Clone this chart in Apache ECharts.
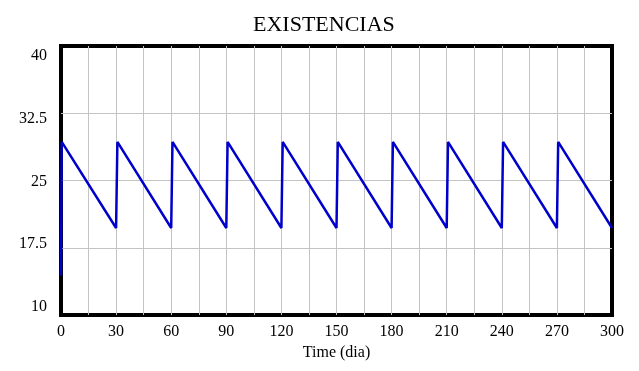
<!DOCTYPE html>
<html><head><meta charset="utf-8">
<script src="https://cdn.jsdelivr.net/npm/echarts@6/dist/echarts.min.js"></script>
<style>html,body{margin:0;padding:0;background:#fff}#c{width:639px;height:371px}</style>
</head><body><div id="c"></div>
<script>
const title = 'EXISTENCIAS';
const xName = 'Time (dia)';
const times = [0, 0.4, 30, 30.7, 60, 60.7, 90, 90.7, 120, 120.7, 150, 150.7, 180, 180.7, 210, 210.7, 240, 240.7, 270, 270.7, 300];
const stock = [14.4, 29.3, 19.7, 29.3, 19.7, 29.3, 19.7, 29.3, 19.7, 29.3, 19.7, 29.3, 19.7, 29.3, 19.7, 29.3, 19.7, 29.3, 19.7, 29.3, 19.7];
const yTicks = [10, 17.5, 25, 32.5, 40];
const xLabelStep = 30;

const font = 'Liberation Serif';
const chart = echarts.init(document.getElementById('c'), null, {renderer: 'canvas'});
chart.setOption({
  animation: false,
  backgroundColor: '#fff',
  title: {text: title, left: 248, top: 9, textStyle: {fontFamily: font, fontSize: 22, fontWeight: 'normal', color: '#000'}},
  grid: {left: 61, right: 27, top: 46, bottom: 56, show: true, borderColor: '#000', borderWidth: 4, backgroundColor: 'transparent'},
  xAxis: {
    type: 'value', min: 0, max: 300, interval: 15,
    name: xName, nameLocation: 'middle', nameGap: 29,
    nameTextStyle: {fontFamily: font, fontSize: 16, color: '#000'},
    axisLine: {show: false}, axisTick: {show: false},
    axisLabel: {fontFamily: font, fontSize: 16, color: '#000', margin: 9,
      formatter: v => (v % xLabelStep === 0 ? String(v) : '')},
    splitLine: {show: true, showMinLine: false, showMaxLine: false, lineStyle: {color: '#c4c4c4', width: 1}}
  },
  yAxis: [{
    type: 'value', min: 10, max: 40, interval: 7.5,
    axisLine: {show: false}, axisTick: {show: false},
    axisLabel: {show: false},
    splitLine: {show: true, showMinLine: false, showMaxLine: false, lineStyle: {color: '#c4c4c4', width: 1}}
  }, {
    type: 'value', position: 'left', min: 9.044, max: 41.195,
    axisLine: {show: false}, axisTick: {show: false},
    splitLine: {show: false},
    axisLabel: {customValues: yTicks, fontFamily: font, fontSize: 16, color: '#000', margin: 14,
      formatter: v => String(v)}
  }],
  series: [{
    type: 'line', yAxisIndex: 0, showSymbol: false,
    data: times.map((t, i) => [t, stock[i]]),
    lineStyle: {color: '#0000cc', width: 2.5}
  }]
});
</script></body></html>
